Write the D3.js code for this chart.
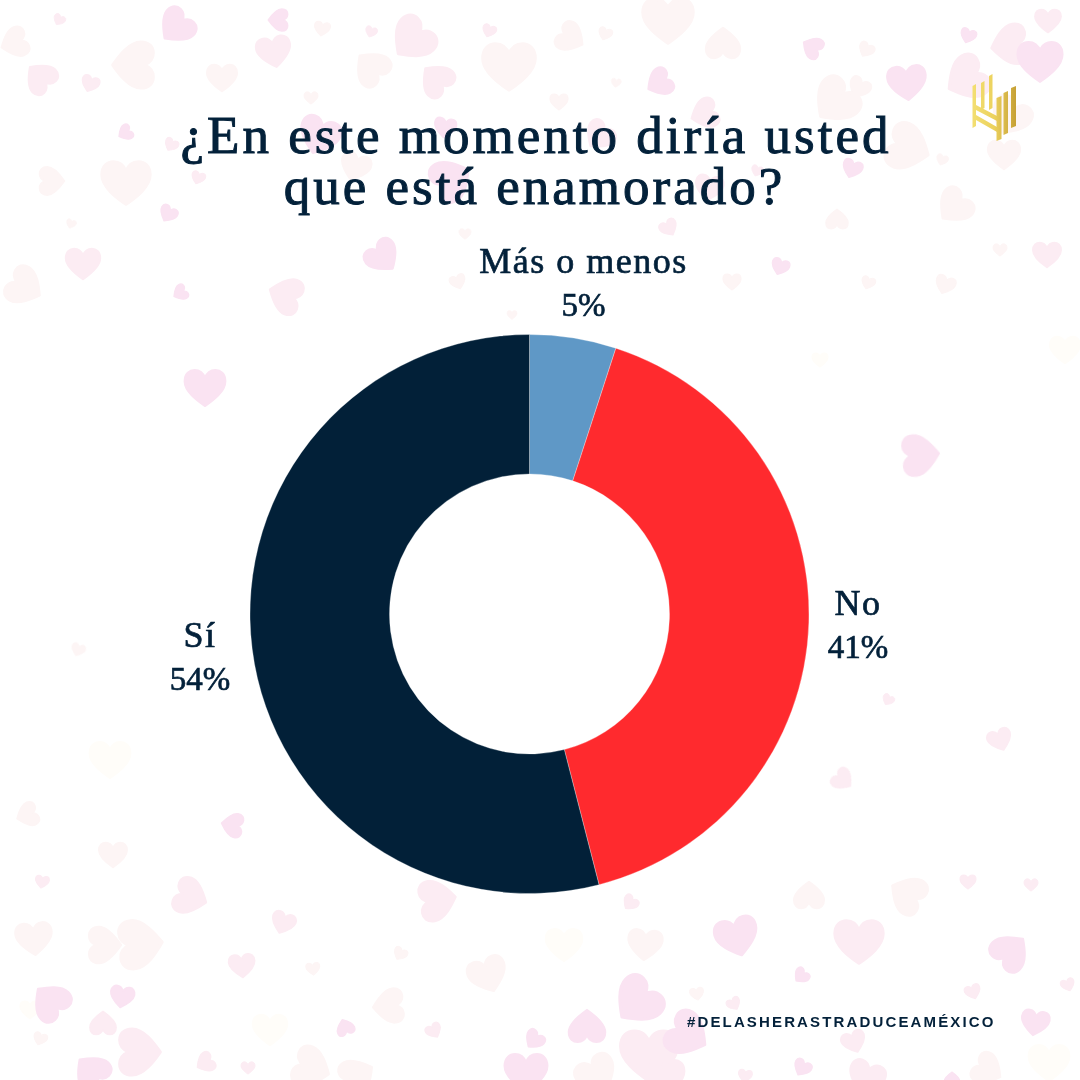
<!DOCTYPE html>
<html>
<head>
<meta charset="utf-8">
<script src="https://cdn.jsdelivr.net/npm/d3@7"></script>
<style>
html,body{margin:0;padding:0;background:#fff;}
svg{display:block;}
text{font-family:"Liberation Serif",serif;fill:#03213a;}
</style>
</head>
<body>
<script>
var categories = ['Más o menos','No','Sí'];
var values = [5,41,54];
var colors = ['#5f98c6','#ff2a2e','#022038'];
var titleLines = ['¿En este momento diría usted','que está enamorado?'];
var hashtag = '#DELASHERASTRADUCEAMÉXICO';

// background hearts: x, y, size, rotation, shade (0 strong .. 3 faintest)
var hearts = [
[176,27,36,45,0],[278,20,22,90,0],[59,20,12,30,1],[14,43,30,70,2],[322,29,16,10,2],[371,32,12,20,1],[412,40,44,45,1],[489,31,14,20,1],[40,77,32,135,1],[90,84,18,20,1],[133,65,46,90,2],[222,78,30,0,2],[274,52,34,-10,1],[371,67,36,135,2],[436,79,34,135,1],[509,67,52,0,2],[311,98,14,0,2],[125,133,16,60,0],[171,145,14,30,1],[319,136,40,20,0],[445,128,22,10,0],[52,181,28,-90,2],[126,183,48,0,2],[198,178,14,20,1],[168,214,18,30,0],[71,224,10,20,2],[355,167,30,20,2],[452,179,42,-120,0],[465,234,12,0,2],
[668,21,50,0,2],[571,38,30,-60,2],[605,34,14,20,2],[723,43,34,180,2],[812,47,22,120,0],[866,50,16,30,2],[968,36,16,20,0],[1048,21,26,0,1],[1009,45,40,80,1],[1040,62,44,0,0],[966,79,44,60,1],[907,83,38,-5,0],[835,102,46,45,2],[859,88,22,30,2],[659,83,28,60,0],[616,83,10,10,2],[559,102,18,0,2],[704,114,30,70,1],[599,136,30,40,1],[909,148,46,-70,2],[757,171,12,20,1],[852,169,20,20,0],[942,160,12,20,2],[1004,155,32,0,2],[1010,117,40,30,2],[709,188,28,10,1],[954,207,36,45,2],[837,219,22,180,2],[669,228,18,-30,1],
[83,264,34,0,1],[25,287,38,-60,2],[180,293,16,60,0],[285,295,36,110,1],[383,257,34,-40,0],[458,282,16,-20,2],[780,267,18,20,0],[732,282,18,0,2],[868,283,14,20,2],[945,285,20,20,2],[1047,255,28,0,1],[1000,250,14,0,2],[512,315,10,0,2],[820,360,16,0,3],[1065,350,30,0,3],
[205,388,40,0,0],[921,455,40,-95,0],[78,650,14,20,2],[888,700,12,30,1],[1000,740,24,-20,1],[843,780,22,-50,1],[27,815,24,70,2],[232,825,24,100,0],[113,855,28,0,2],[42,882,14,10,1],[110,760,40,0,3],[30,1010,20,0,3],
[191,897,36,-70,1],[438,900,40,-100,1],[34,939,36,-5,2],[105,945,36,-90,2],[141,944,48,-95,2],[283,923,24,20,1],[400,954,14,30,2],[242,966,26,-5,1],[313,969,14,-5,2],[488,975,38,-20,2],[50,1001,38,135,0],[122,997,24,10,0],[103,1023,26,180,1],[388,1006,34,85,2],[345,1027,18,160,0],[434,1031,16,-30,1],[140,1052,46,-90,1],[91,1071,36,135,0],[205,1063,20,60,1],[248,1068,14,0,1],[312,1068,40,-70,2],[358,1075,36,-120,2],[526,1073,42,0,0],[534,1040,20,40,0],[40,1039,14,20,2],[270,1030,34,0,3],
[630,903,16,40,1],[809,895,30,180,2],[907,894,38,120,2],[737,937,42,-15,0],[859,942,48,0,1],[645,945,34,5,2],[1011,951,38,-135,0],[801,976,16,45,0],[973,992,16,-20,1],[1068,985,14,-20,1],[697,994,14,-10,2],[734,1004,14,-30,1],[637,1002,48,45,0],[587,1026,36,180,0],[1035,1023,28,10,0],[649,1056,56,0,1],[688,1035,44,-60,0],[854,1042,24,-20,1],[597,1075,40,-30,2],[802,1068,18,30,0],[745,1076,14,10,1],[664,1078,40,0,1],[866,1078,36,20,1],[952,1079,16,180,0],[988,1070,32,-60,2],[1049,1063,40,0,3],[564,945,36,0,3],[968,882,16,0,1],[1031,885,14,0,1]
];
var heartShades = ['#fae3f2','#fcecf3','#fdf5f5','#fffdf9'];

var svg = d3.select('body').append('svg').attr('width',1080).attr('height',1080);
var defs = svg.append('defs');
defs.append('filter').attr('id','soft')
  .attr('filterUnits','userSpaceOnUse').attr('x',0).attr('y',0).attr('width',1080).attr('height',1080)
  .append('feGaussianBlur').attr('stdDeviation',0.6);
svg.append('rect').attr('width',1080).attr('height',1080).attr('fill','#fff');

var heartPath = 'M0,0.44 C-0.2,0.3 -0.5,0.08 -0.5,-0.17 C-0.5,-0.36 -0.38,-0.44 -0.26,-0.44 C-0.14,-0.44 -0.05,-0.37 0,-0.24 C0.05,-0.37 0.14,-0.44 0.26,-0.44 C0.38,-0.44 0.5,-0.36 0.5,-0.17 C0.5,0.08 0.2,0.3 0,0.44 Z';
svg.append('g').attr('filter','url(#soft)').selectAll('path')
  .data(hearts)
  .enter().append('path')
    .attr('d',heartPath)
    .attr('fill',function(d){return heartShades[d[4]];})
    .attr('stroke',function(d){return heartShades[d[4]];})
    .attr('stroke-width',0.07)
    .attr('stroke-linejoin','round')
    .attr('transform',function(d){return 'translate('+d[0]+','+d[1]+') rotate('+d[3]+') scale('+d[2]+')';});

// title, one text with two lines
svg.append('text')
  .attr('text-anchor','middle')
  .attr('font-size',53)
  .attr('letter-spacing',3)
  .attr('stroke','#03213a')
  .attr('stroke-width',1)
  .selectAll('tspan')
  .data(titleLines)
  .enter().append('tspan')
    .attr('x',function(d,i){return i==0 ? 536 : 534.5;})
    .attr('y',function(d,i){return 152.5+i*51;})
    .text(function(d){return d;});

// donut
var cx = 529.5, cy = 614;
var pie = d3.pie().sort(null);
var arc = d3.arc().innerRadius(140).outerRadius(279.5);
var g = svg.append('g').attr('transform','translate('+cx+','+cy+')');
g.selectAll('path')
  .data(pie(values))
  .enter().append('path')
    .attr('d',arc)
    .attr('fill',function(d,i){return colors[i];})
    .attr('stroke','#fff')
    .attr('stroke-width',0.3);

// slice labels
var labelX = d3.scaleOrdinal().domain(categories).range([583.5,858,200]);
var labelY = d3.scaleOrdinal().domain(categories).range([273,615,647]);
var labels = svg.append('g').selectAll('g')
  .data(categories)
  .enter().append('g')
    .attr('transform',function(d){return 'translate('+labelX(d)+','+labelY(d)+')';});
labels.append('text')
  .attr('text-anchor','middle')
  .attr('font-size',36)
  .attr('letter-spacing',1.5)
  .attr('stroke','#03213a')
  .attr('stroke-width',0.7)
  .text(function(d){return d;});
labels.append('text')
  .attr('y',43)
  .attr('text-anchor','middle')
  .attr('font-size',33)
  .attr('stroke','#03213a')
  .attr('stroke-width',0.7)
  .text(function(d,i){return values[i]+'%';});

// hashtag
svg.append('text')
  .attr('x',687)
  .attr('y',1027)
  .attr('font-size',15)
  .attr('font-weight','bold')
  .attr('letter-spacing',2.14)
  .style('font-family','"Liberation Sans",sans-serif')
  .text(hashtag);

// logo
var goldGrad = defs.append('linearGradient').attr('id','gold')
  .attr('gradientUnits','userSpaceOnUse').attr('x1',972).attr('x2',1016).attr('y1',0).attr('y2',0);
goldGrad.append('stop').attr('offset','0').attr('stop-color','#f3df72');
goldGrad.append('stop').attr('offset','0.5').attr('stop-color','#ecd25e');
goldGrad.append('stop').attr('offset','1').attr('stop-color','#c6a035');
var logoBars = [[972.5,86,42,3.5],[981,83,27,3.5],[989,76,34,3.5],[996.5,98,43,5],[1003.5,93,42,4.5],[1011,88,40,5]];
var logo = svg.append('g').attr('fill','url(#gold)');
logo.selectAll('path')
  .data(logoBars)
  .enter().append('path')
    .attr('d',function(d){return 'M'+d[0]+','+d[1]+' l'+d[3]+',-2 v'+d[2]+' l-'+d[3]+',2 Z';});
logo.append('path').attr('d','M976,105 L997,116 V121 L976,110 Z M976,115 L997,127 V132 L976,120 Z');
</script>
</body>
</html>
